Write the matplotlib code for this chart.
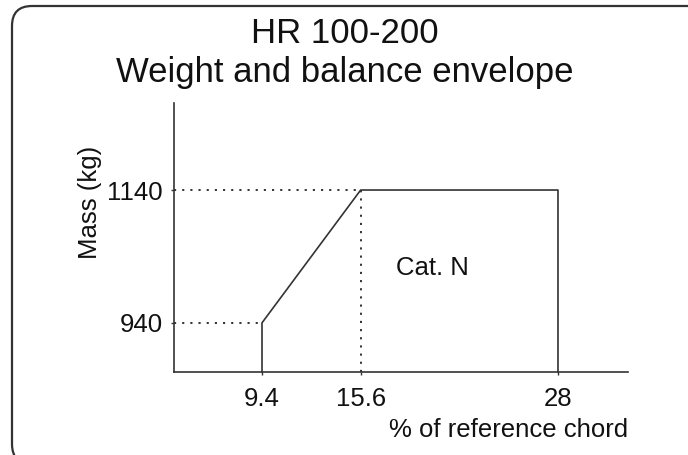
import matplotlib
matplotlib.use('Agg')
import matplotlib.pyplot as plt
from matplotlib.patches import FancyBboxPatch

plt.rcParams['font.family'] = ['Liberation Sans', 'DejaVu Sans']

# envelope corners (% of reference chord, mass kg)
cg_points = [9.4, 15.6, 28]
mass_points = [940, 1140, 1140]
x_ticks = [9.4, 15.6, 28]
y_ticks = [940, 1140]

line_col = '#333333'
txt_col = '#111111'
fs = 18.5

fig = plt.figure(figsize=(6.88, 4.55), dpi=100)
ax = fig.add_axes([0.2529, 0.1824, 0.6599, 0.5912])

xmin, xmax = 3.87, 32.4
ymin, ymax = 866, 1271
ax.set_xlim(xmin, xmax)
ax.set_ylim(ymin, ymax)

# envelope outline, down to the x axis at both ends
ex = [cg_points[0]] + cg_points + [cg_points[-1]]
ey = [ymin] + mass_points + [ymin]
ax.plot(ex, ey, color=line_col, lw=1.2, clip_on=False)

# dotted guides
dot = dict(color=line_col, lw=1.4, linestyle=(0, (1.1, 3.1)))
ax.plot([xmin, cg_points[0]], [mass_points[0], mass_points[0]], **dot)
ax.plot([xmin, cg_points[1]], [mass_points[1], mass_points[1]], **dot)
ax.plot([cg_points[1], cg_points[1]], [ymin, mass_points[1]], **dot)

ax.text(20.1, 1023, 'Cat. N', fontsize=fs, ha='center', va='center', color=txt_col)

ax.set_xticks(x_ticks)
ax.set_xticklabels(['9.4', '15.6', '28'])
ax.set_yticks(y_ticks)
ax.set_yticklabels(['940', '1140'])
ax.tick_params(length=2, width=1, color=line_col, labelsize=fs, labelcolor=txt_col)
ax.tick_params(axis='x', pad=9)
ax.tick_params(axis='y', pad=6)

for s in ['top', 'right']:
    ax.spines[s].set_visible(False)
for s in ['left', 'bottom']:
    ax.spines[s].set_color(line_col)
    ax.spines[s].set_linewidth(1.2)

ax.set_ylabel('Mass (kg)', fontsize=fs, color=txt_col)
ax.yaxis.set_label_coords(-0.159, 0.63)
ax.set_xlabel('% of reference chord', fontsize=fs, color=txt_col, ha='right')
ax.xaxis.set_label_coords(1.0, -0.172)

fig.text(0.5015, 1 - 43 / 455, 'HR 100-200', fontsize=25, ha='center', va='baseline', color=txt_col)
fig.text(0.5015, 1 - 82 / 455, 'Weight and balance envelope', fontsize=25, ha='center', va='baseline', color=txt_col)

# rounded frame, running off the right and bottom edges like the original
frame = FancyBboxPatch((0.12, -0.09), 6.97, 4.58,
                       boxstyle='round,pad=0,rounding_size=0.2',
                       transform=fig.dpi_scale_trans, fill=False,
                       edgecolor=line_col, lw=1.6)
fig.patches.append(frame)

fig.savefig('out.png', dpi=100)
